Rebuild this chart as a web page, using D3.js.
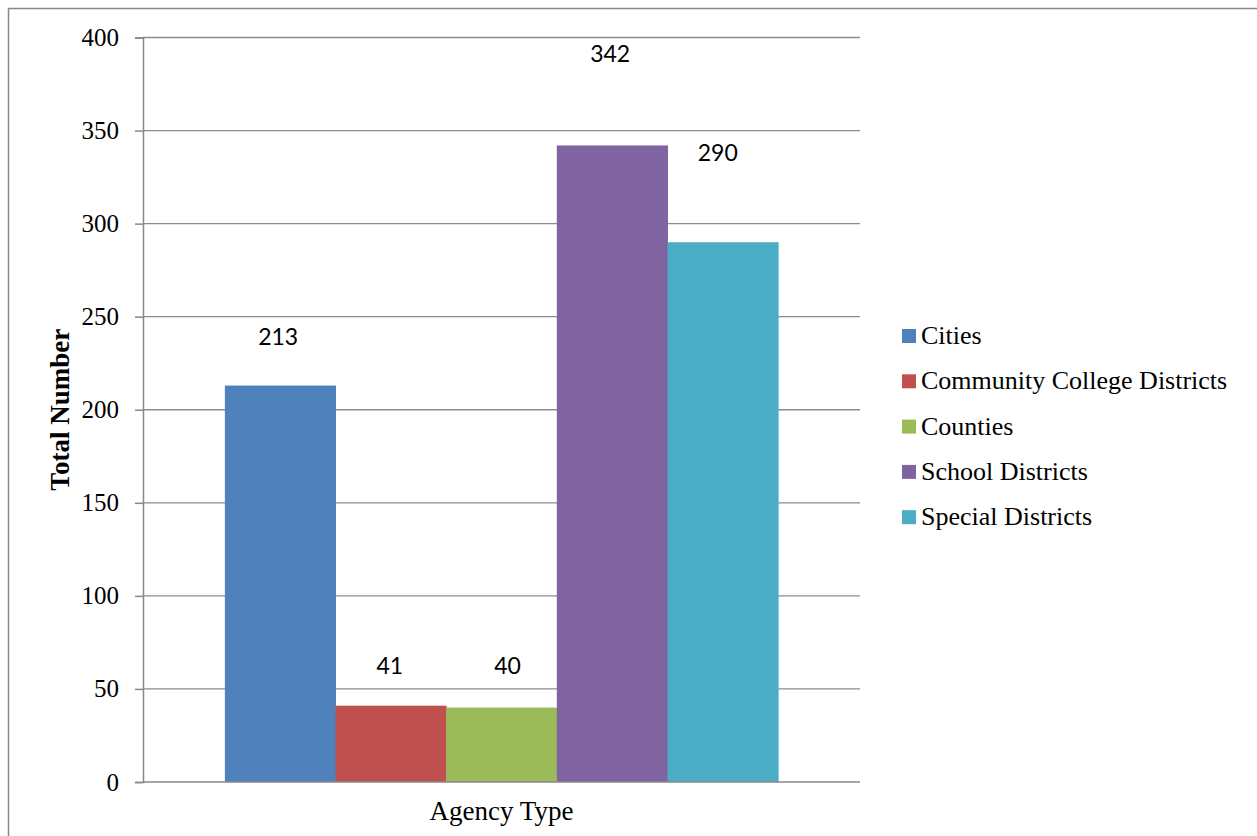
<!DOCTYPE html>
<html>
<head>
<meta charset="utf-8">
<script src="https://cdnjs.cloudflare.com/ajax/libs/d3/7.8.5/d3.min.js"></script>
<style>
  body { margin: 0; background: #fff; }
  svg { display: block; }
</style>
</head>
<body>
<script>
    // chart data
    var categories = ['Agency Type'];
    var series = ['Cities', 'Community College Districts', 'Counties', 'School Districts', 'Special Districts'];
    var values = [213, 41, 40, 342, 290];
    var colors = ['#4F81BD', '#C0504D', '#9BBB59', '#8064A2', '#4BACC6'];
    var yTicks = [0, 50, 100, 150, 200, 250, 300, 350, 400];

    // where excel left each data label, px above the bar top / px sideways
    var labelLift = [49, 40, 42, 92, 89];
    var labelShift = [-2, -1, 6, -2, -5];

    var W = 1257, H = 836;
    var plot = { left: 143, right: 860, top: 37.5, bottom: 782 };
    var serif = '"Liberation Serif", "Times New Roman", serif';

    var svg = d3.select('body').append('svg')
        .attr('width', W)
        .attr('height', H);

    // outer frame
    svg.append('path')
        .attr('d', 'M8.5,' + H + 'V8.5H' + W)
        .attr('fill', 'none')
        .attr('stroke', '#878787')
        .attr('stroke-width', 1.5);

    var y = d3.scaleLinear().domain([0, 400]).range([plot.bottom, plot.top]);
    var x0 = d3.scaleBand().domain(categories).range([plot.left, plot.right]).paddingInner(0).paddingOuter(0.148);
    var x1 = d3.scaleBand().domain(series).range([0, x0.bandwidth()]).padding(0);

    // gridlines
    svg.append('g').selectAll('line')
        .data(yTicks.slice(1))
        .enter().append('line')
        .attr('x1', plot.left)
        .attr('x2', plot.right)
        .attr('y1', function(d) { return y(d); })
        .attr('y2', function(d) { return y(d); })
        .attr('stroke', '#8c8c8c')
        .attr('stroke-width', 1.3);

    // bars
    var group = svg.append('g')
        .attr('transform', 'translate(' + x0(categories[0]) + ',0)');

    group.selectAll('rect')
        .data(values)
        .enter().append('rect')
        .attr('x', function(d, i) { return x1(series[i]); })
        .attr('y', function(d) { return y(d); })
        .attr('width', x1.bandwidth() + 0.5)
        .attr('height', function(d) { return y(0) - y(d); })
        .attr('fill', function(d, i) { return colors[i]; });

    group.selectAll('text')
        .data(values)
        .enter().append('text')
        .attr('x', function(d, i) { return x1(series[i]) + x1.bandwidth() / 2 + labelShift[i]; })
        .attr('y', function(d, i) { return y(d) - labelLift[i]; })
        .attr('dy', '0.35em')
        .attr('text-anchor', 'middle')
        .style('font-family', 'Lato, "Open Sans", sans-serif')
        .style('font-size', '23px')
        .attr('fill', '#000')
        .text(function(d) { return d; });

    // y axis
    var yAxis = d3.axisLeft(y).tickValues(yTicks).tickSize(8).tickPadding(16);
    var ya = svg.append('g')
        .attr('transform', 'translate(' + plot.left + ',0)')
        .call(yAxis);
    ya.select('.domain').attr('stroke', '#878787').attr('stroke-width', 1.5);
    ya.selectAll('.tick line').attr('stroke', '#878787').attr('stroke-width', 1.5);
    ya.selectAll('.tick text')
        .style('font-family', serif)
        .style('font-size', '25px')
        .attr('fill', '#000');

    // x axis line
    svg.append('line')
        .attr('x1', plot.left)
        .attr('x2', plot.right)
        .attr('y1', y(0))
        .attr('y2', y(0))
        .attr('stroke', '#878787')
        .attr('stroke-width', 1.5);

    svg.append('text')
        .attr('x', (plot.left + plot.right) / 2)
        .attr('y', 820)
        .attr('text-anchor', 'middle')
        .style('font-family', serif)
        .style('font-size', '27px')
        .text(categories[0]);

    svg.append('text')
        .attr('transform', 'translate(69,' + ((plot.top + plot.bottom) / 2) + ') rotate(-90)')
        .attr('text-anchor', 'middle')
        .style('font-family', serif)
        .style('font-size', '27px')
        .style('font-weight', 'bold')
        .text('Total Number');

    // legend
    var legend = svg.append('g').selectAll('g')
        .data(series)
        .enter().append('g')
        .attr('transform', function(d, i) { return 'translate(902,' + (336 + i * 45.3) + ')'; });

    legend.append('rect')
        .attr('x', 0)
        .attr('y', -7)
        .attr('width', 14)
        .attr('height', 14)
        .attr('fill', function(d, i) { return colors[i]; });

    legend.append('text')
        .attr('x', 19)
        .attr('y', 8)
        .style('font-family', serif)
        .style('font-size', '26px')
        .text(function(d) { return d; });
</script>
</body>
</html>
